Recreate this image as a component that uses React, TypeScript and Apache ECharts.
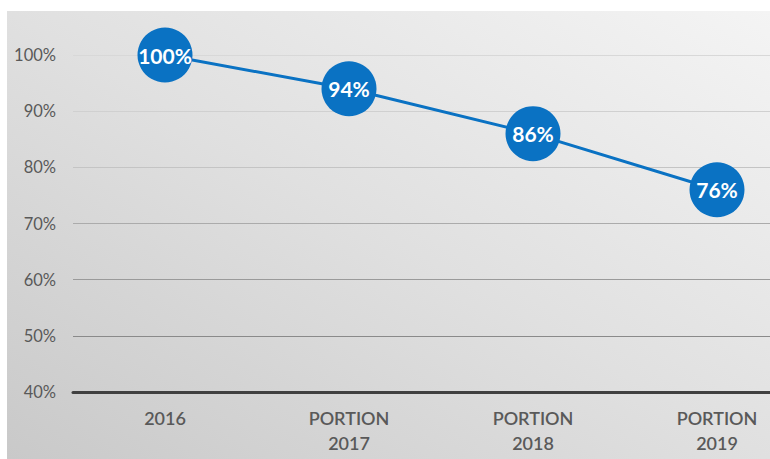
import React, { useEffect, useRef } from "react";
import * as echarts from "echarts";

const categories = ["2016", "PORTION\n2017", "PORTION\n2018", "PORTION\n2019"];
const values = [100, 94, 86, 76];
const yTicks = { min: 40, max: 100, interval: 10 };

export default function App() {
  const ref = useRef<HTMLDivElement>(null);
  useEffect(() => {
    document.body.style.margin = "0";
    const chart = echarts.init(ref.current!, null, { renderer: "svg" });
    chart.setOption({
      animation: false,
      backgroundColor: "#ffffff",
      textStyle: { fontFamily: "Lato" },
      graphic: [
        {
          type: "rect",
          z: -10,
          silent: true,
          shape: { x: 7, y: 11, width: 763, height: 448 },
          style: {
            fill: new echarts.graphic.LinearGradient(0, 1, 1, 0, [
              { offset: 0, color: "#c9c9c9" },
              { offset: 0.5, color: "#e0e0e0" },
              { offset: 1, color: "#f4f4f4" },
            ]),
          },
        },
      ],
      grid: { left: 73, width: 736, top: 55, bottom: 67, outerBoundsMode: "none", containLabel: false },
      xAxis: {
        type: "category",
        data: categories,
        boundaryGap: true,
        axisLine: { show: true, lineStyle: { color: "#404040", width: 3 } },
        axisTick: { show: false },
        axisLabel: {
          color: "#595959",
          fontSize: 18,
          fontWeight: 600,
          fontFamily: "Lato",
          margin: 13,
          lineHeight: 25,
        },
      },
      yAxis: {
        type: "value",
        min: yTicks.min,
        max: yTicks.max,
        interval: yTicks.interval,
        axisLine: { show: false },
        axisTick: { show: false },
        axisLabel: {
          formatter: "{value}%",
          color: "#595959",
          fontSize: 16.5,
          fontFamily: "Lato",
          margin: 17,
        },
        splitLine: {
          show: true,
          lineStyle: {
            width: 1.2,
            color: ["#444444", "#8a8a8a", "#9a9a9a", "#ababab", "#c4c4c4", "#d0d0d0", "#d8d8d8"],
          },
        },
      },
      series: [
        {
          type: "line",
          data: values,
          symbol: "circle",
          symbolSize: 55,
          lineStyle: { color: "#0a72c3", width: 3 },
          itemStyle: { color: "#0a72c3" },
          label: {
            show: true,
            position: "inside",
            formatter: "{c}%",
            color: "#ffffff",
            fontSize: 21,
            fontWeight: "bold",
            fontFamily: "Lato",
          },
        },
      ],
    });
    return () => chart.dispose();
  }, []);
  return (
    <div
      ref={ref}
      style={{ position: "fixed", left: 0, top: 0, width: 770, height: 459 }}
    />
  );
}
